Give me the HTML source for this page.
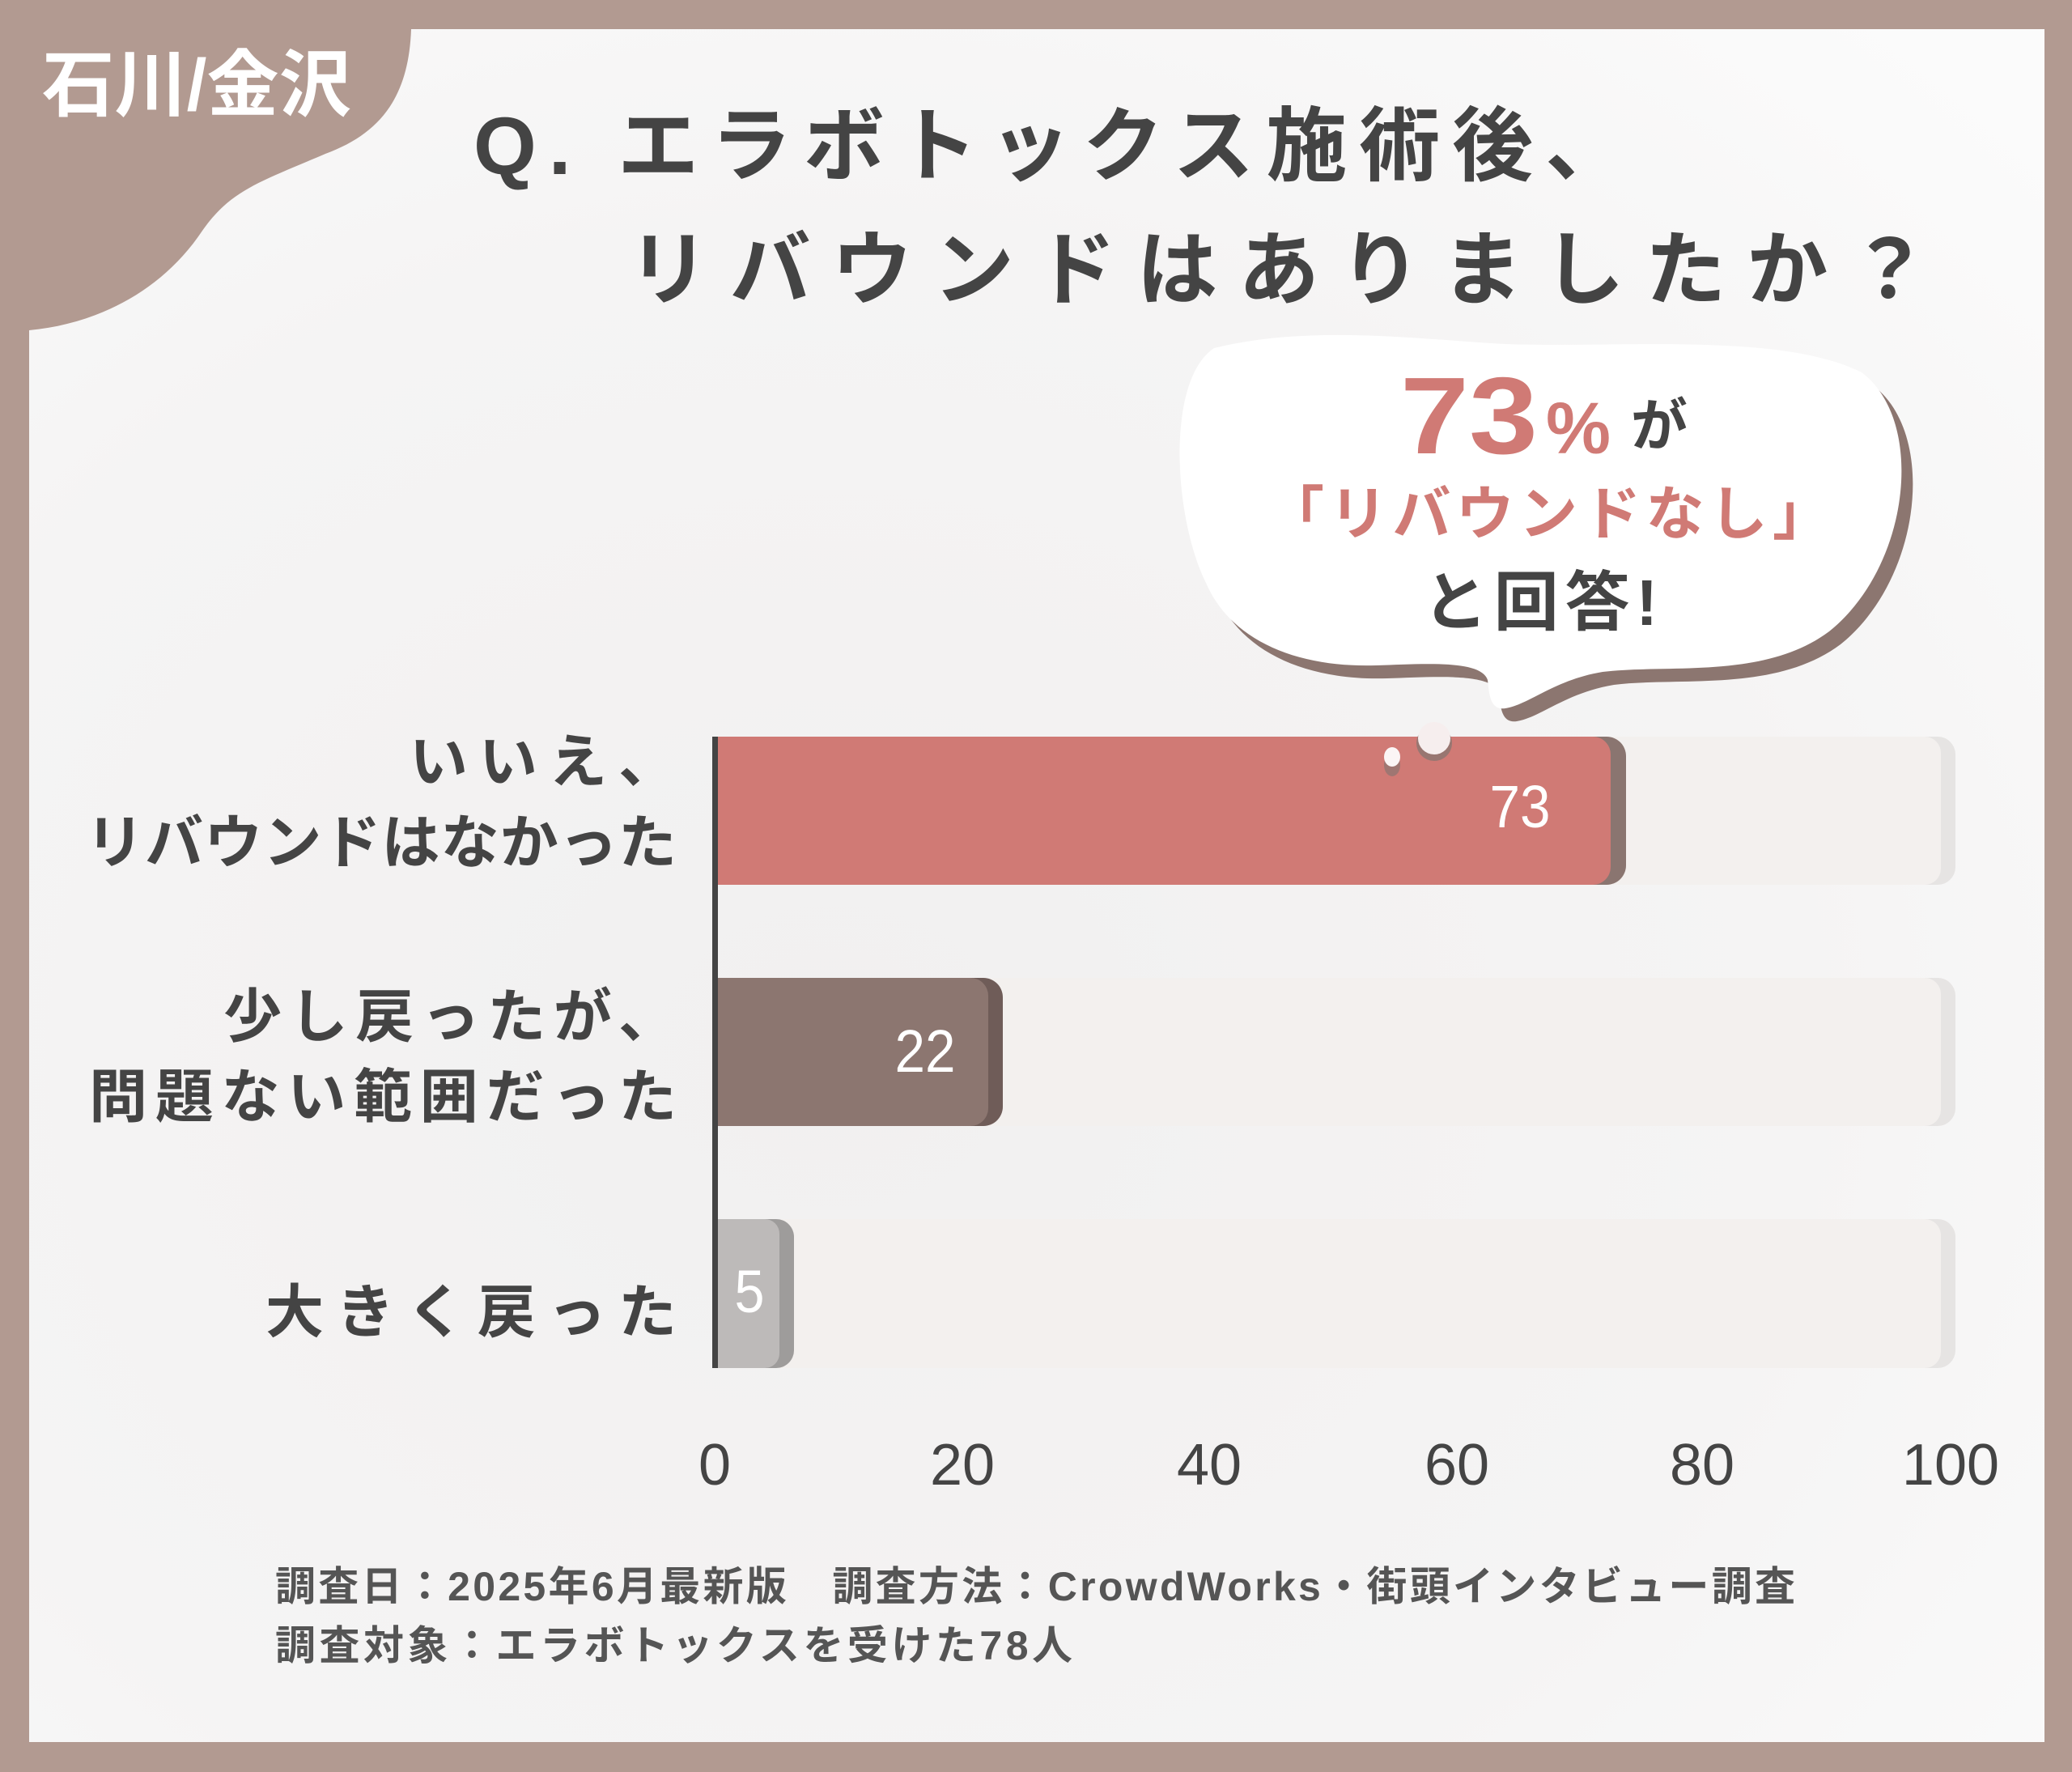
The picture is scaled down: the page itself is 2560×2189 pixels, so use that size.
<!DOCTYPE html>
<html><head><meta charset="utf-8"><style>
html,body{margin:0;padding:0;}
body{width:2560px;height:2189px;overflow:hidden;background:#b29a91;}
svg{display:block;}
text{font-family:"Liberation Sans","Noto Sans CJK JP",sans-serif;}
</style></head><body>
<svg width="2560" height="2189" viewBox="0 0 2560 2189" xmlns="http://www.w3.org/2000/svg">
<defs>
<radialGradient id="bg" cx="0.4" cy="0.6" r="0.8">
<stop offset="0" stop-color="#f1f0f0"/><stop offset="0.6" stop-color="#f5f4f4"/><stop offset="1" stop-color="#fbfbfb"/>
</radialGradient>
</defs>
<rect x="0" y="0" width="2560" height="2189" fill="#b29a91"/>
<rect x="36" y="36" width="2490" height="2116" fill="url(#bg)"/>
<path d="M0,0 L510,0 L508,36 C505,120 470,165 402,190 C320,225 285,235 250,285 C200,360 120,400 36,408 L0,408 Z" fill="#b29a91"/>
<text x="52" y="136" font-size="90" fill="#fff" font-weight="bold" textLength="382" lengthAdjust="spacingAndGlyphs">石川/金沢</text>

<text x="585" y="215" font-size="100" fill="#444" font-weight="bold" textLength="1424" lengthAdjust="spacing">Q. エラボトックス施術後、</text>
<text x="776" y="368" font-size="100" fill="#444" font-weight="bold" textLength="1608" lengthAdjust="spacing">リバウンドはありましたか？</text>

<!-- bubble -->
<g transform="translate(14,16)" fill="#8c7670">
<path d="M1500,430 C1620,400 1760,420 1860,425 C2000,430 2200,410 2300,460 C2380,520 2360,700 2260,780 C2180,840 2060,820 1980,830 C1920,840 1890,870 1860,875 C1840,878 1840,855 1838,840 C1830,815 1760,820 1700,822 C1600,825 1520,790 1490,720 C1450,640 1440,470 1500,430 Z"/>
</g>
<path d="M1500,430 C1620,400 1760,420 1860,425 C2000,430 2200,410 2300,460 C2380,520 2360,700 2260,780 C2180,840 2060,820 1980,830 C1920,840 1890,870 1860,875 C1840,878 1840,855 1838,840 C1830,815 1760,820 1700,822 C1600,825 1520,790 1490,720 C1450,640 1440,470 1500,430 Z" fill="#fff"/>
<text x="1730" y="560" font-size="135" fill="#d07a75" font-weight="bold" textLength="170" lengthAdjust="spacingAndGlyphs">73</text>
<text x="1910" y="560" font-size="90" fill="#d07a75" font-weight="bold">%</text>
<text x="2015" y="550" font-size="70" fill="#444" font-weight="bold">が</text>
<text x="1564" y="660" font-size="72" fill="#d07a75" font-weight="bold" textLength="698" lengthAdjust="spacing">「リバウンドなし」</text>
<text x="1758" y="772" font-size="80" fill="#444" font-weight="bold" textLength="290" lengthAdjust="spacing">と回答!</text>

<!-- tracks -->
<g fill="#e6e4e3">
<rect x="900" y="910" width="1516" height="183" rx="22"/>
<rect x="900" y="1208" width="1516" height="183" rx="22"/>
<rect x="900" y="1506" width="1516" height="184" rx="22"/>
</g>
<g fill="#f3f0ee">
<rect x="883" y="910" width="1515" height="183" rx="20"/>
<rect x="883" y="1208" width="1515" height="183" rx="20"/>
<rect x="883" y="1506" width="1515" height="184" rx="20"/>
</g>
<!-- bars -->
<rect x="883" y="910" width="1126" height="183" rx="24" fill="#8a7570"/>
<rect x="883" y="910" width="1107" height="183" rx="22" fill="#d07a75"/>
<rect x="883" y="910" width="40" height="183" fill="#d07a75"/>
<circle cx="1772" cy="918" r="22" fill="#8a7570" opacity="0.8"/>
<circle cx="1772" cy="912" r="20" fill="#f6eeee"/>
<ellipse cx="1720" cy="945" rx="10" ry="14" fill="#8a7570" opacity="0.7"/>
<ellipse cx="1720" cy="935" rx="10" ry="12" fill="#fbf5f5"/>
<rect x="883" y="1208" width="356" height="183" rx="24" fill="#6f5c58"/>
<rect x="883" y="1208" width="338" height="183" rx="22" fill="#8c7670"/>
<rect x="883" y="1208" width="40" height="183" fill="#8c7670"/>
<rect x="883" y="1506" width="98" height="184" rx="22" fill="#9e9c9b"/>
<rect x="883" y="1506" width="80" height="184" rx="18" fill="#bdbab9"/>
<rect x="883" y="1506" width="30" height="184" fill="#bdbab9"/>
<rect x="880" y="910" width="7" height="780" fill="#444"/>

<text x="1878" y="1022" font-size="74" fill="#fff" text-anchor="middle" textLength="75" lengthAdjust="spacingAndGlyphs">73</text>
<text x="1143" y="1324" font-size="74" fill="#fff" text-anchor="middle" textLength="75" lengthAdjust="spacingAndGlyphs">22</text>
<text x="926" y="1621" font-size="74" fill="#fff" text-anchor="middle" textLength="37" lengthAdjust="spacingAndGlyphs">5</text>

<g font-size="72" fill="#444" font-weight="bold" text-anchor="end">
<text x="836" y="966" textLength="330" lengthAdjust="spacing">いいえ、</text>
<text x="836" y="1066" textLength="730" lengthAdjust="spacing">リバウンドはなかった</text>
<text x="836" y="1281" textLength="560" lengthAdjust="spacing">少し戻ったが、</text>
<text x="836" y="1380" textLength="726" lengthAdjust="spacing">問題ない範囲だった</text>
<text x="836" y="1646" textLength="508" lengthAdjust="spacing">大きく戻った</text>
</g>

<g font-size="72" fill="#444" text-anchor="middle">
<text x="883" y="1834">0</text>
<text x="1189" y="1834">20</text>
<text x="1494" y="1834">40</text>
<text x="1800" y="1834">60</text>
<text x="2103" y="1834">80</text>
<text x="2410" y="1834">100</text>
</g>

<g font-size="50" fill="#555" font-weight="bold">
<text x="340" y="1977" textLength="1878" lengthAdjust="spacing">調査日：2025年6月最新版　調査方法：CrowdWorks・街頭インタビュー調査</text>
<text x="340" y="2050" textLength="985" lengthAdjust="spacing">調査対象：エラボトックスを受けた78人</text>
</g>
</svg>
</body></html>
